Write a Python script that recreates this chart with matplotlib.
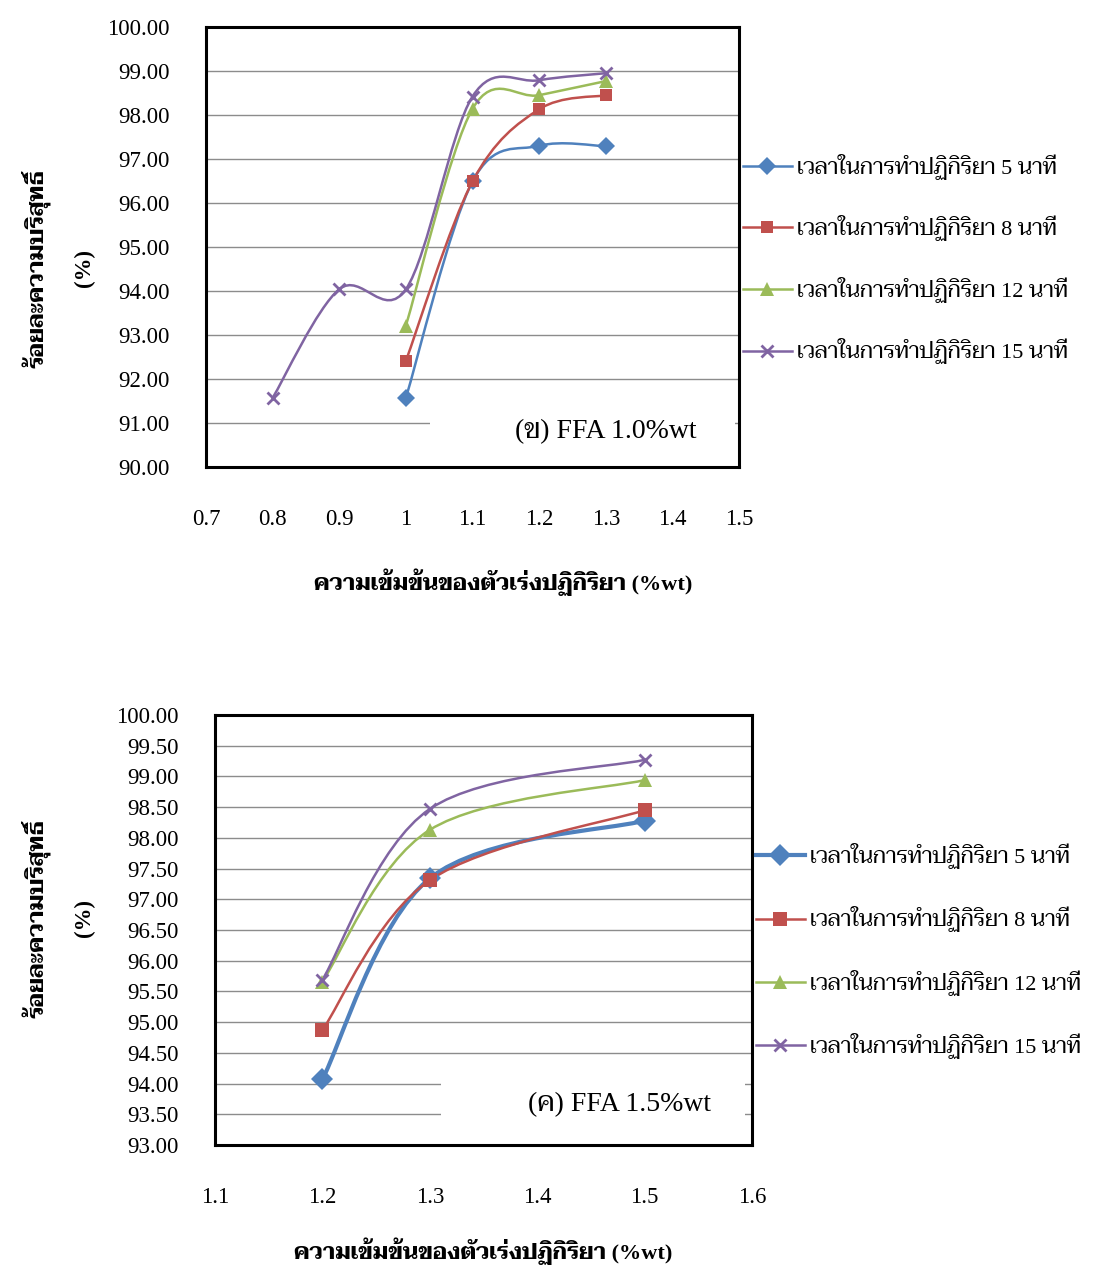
import matplotlib
matplotlib.use("Agg")
import matplotlib.pyplot as plt
from matplotlib.path import Path
from matplotlib.patches import PathPatch, Rectangle
from matplotlib.lines import Line2D
from matplotlib import font_manager
from fontTools.ttLib import TTFont, TTCollection


def find_thai_fonts():
    found = []
    for f in font_manager.findSystemFonts():
        try:
            if f.lower().endswith(".ttc"):
                fonts = TTCollection(f).fonts
            else:
                fonts = [TTFont(f, lazy=True)]
            for tt in fonts:
                cmap = tt.getBestCmap() or {}
                if 0x0E01 in cmap and 0x0E35 in cmap:
                    found.append(font_manager.FontProperties(fname=f).get_name())
                    break
        except Exception:
            continue
    return sorted(set(found))


thai_fonts = find_thai_fonts()
preferred = ["Taviraj", "Trirong", "Noto Serif Thai", "Sarabun"]
thai = next((p for p in preferred if p in thai_fonts), thai_fonts[0] if thai_fonts else None)
FAM = ["Liberation Serif"] + ([thai] if thai else []) + ["DejaVu Sans"]

# ---- data: chart (ข) FFA 1.0%wt ----
x_b = [0.8, 0.9, 1.0, 1.1, 1.2, 1.3]
b_5min = [None, None, 91.57, 96.49, 97.30, 97.29]
b_8min = [None, None, 92.41, 96.49, 98.13, 98.45]
b_12min = [None, None, 93.21, 98.14, 98.45, 98.77]
b_15min = [91.57, 94.04, 94.04, 98.42, 98.79, 98.95]
b_xticks = [0.7, 0.8, 0.9, 1.0, 1.1, 1.2, 1.3, 1.4, 1.5]
b_xlabels = ["0.7", "0.8", "0.9", "1", "1.1", "1.2", "1.3", "1.4", "1.5"]
b_yticks = [90, 91, 92, 93, 94, 95, 96, 97, 98, 99, 100]

# ---- data: chart (ค) FFA 1.5%wt ----
x_c = [1.2, 1.3, 1.5]
c_5min = [94.07, 97.34, 98.28]
c_8min = [94.87, 97.31, 98.45]
c_12min = [95.66, 98.13, 98.94]
c_15min = [95.69, 98.47, 99.27]
c_xticks = [1.1, 1.2, 1.3, 1.4, 1.5, 1.6]
c_xlabels = ["1.1", "1.2", "1.3", "1.4", "1.5", "1.6"]
c_yticks = [93.0, 93.5, 94.0, 94.5, 95.0, 95.5, 96.0, 96.5, 97.0, 97.5,
            98.0, 98.5, 99.0, 99.5, 100.0]

labels = ["เวลาในการทำปฏิกิริยา 5 นาที", "เวลาในการทำปฏิกิริยา 8 นาที",
          "เวลาในการทำปฏิกิริยา 12 นาที", "เวลาในการทำปฏิกิริยา 15 นาที"]
colors = ["#4F81BD", "#C0504D", "#9BBB59", "#8064A2"]
markers = ["D", "s", "^", "x"]
xlab = "ความเข้มข้นของตัวเร่งปฏิกิริยา (%wt)"
ylab = "ร้อยละความบริสุทธิ์\n(%)"


def smooth_path(xs, ys):
    # excel style smoothed line (catmull-rom as cubic bezier)
    pts = [(x, y) for x, y in zip(xs, ys) if y is not None]
    n = len(pts)
    verts = [pts[0]]
    codes = [Path.MOVETO]
    for i in range(n - 1):
        p0 = pts[i - 1] if i > 0 else pts[i]
        p1 = pts[i]
        p2 = pts[i + 1]
        p3 = pts[i + 2] if i + 2 < n else pts[i + 1]
        c1 = (p1[0] + (p2[0] - p0[0]) / 6, p1[1] + (p2[1] - p0[1]) / 6)
        c2 = (p2[0] - (p3[0] - p1[0]) / 6, p2[1] - (p3[1] - p1[1]) / 6)
        verts += [c1, c2, p2]
        codes += [Path.CURVE4] * 3
    return Path(verts, codes)


def draw_chart(ax, xs, series, xticks, xlabels, yticks, xlim, ylim, lws, msizes,
               note, note_xy, mask):
    ax.set_xlim(*xlim)
    ax.set_ylim(*ylim)
    ax.set_yticks(yticks)
    ax.set_yticklabels([f"{v:.2f}" for v in yticks], family=FAM, fontsize=16.5)
    ax.set_xticks(xticks)
    ax.set_xticklabels(xlabels, family=FAM, fontsize=16.5)
    ax.tick_params(axis="y", length=0, pad=26)
    ax.tick_params(axis="x", length=0, pad=30)
    ax.set_axisbelow(True)
    ax.grid(axis="y", color="#8c8c8c", linewidth=1.0)
    for s in ax.spines.values():
        s.set_linewidth(2.2)
        s.set_color("black")
    # white box behind the note hides part of the gridlines
    ax.add_patch(Rectangle((mask[0], mask[1]), mask[2], mask[3],
                           transform=ax.transAxes, facecolor="white",
                           edgecolor="none", zorder=1.2))
    for ys, c, m, lw, ms in zip(series, colors, markers, lws, msizes):
        ax.add_patch(PathPatch(smooth_path(xs, ys), facecolor="none",
                               edgecolor=c, linewidth=lw, zorder=2))
        px = [x for x, y in zip(xs, ys) if y is not None]
        py = [y for y in ys if y is not None]
        mew = 2.0 if m == "x" else 0
        ax.plot(px, py, linestyle="none", color=c, marker=m, markersize=ms,
                markeredgewidth=mew, markeredgecolor=c, zorder=3)
    ax.text(note_xy[0], note_xy[1], note, transform=ax.transAxes,
            ha="center", va="center", family=FAM, fontsize=20, zorder=4)


fig = plt.figure(figsize=(11.09, 12.68), dpi=100)
W, H = 1109, 1268


def ax_at(l, t, r, b):
    return fig.add_axes([l / W, 1 - b / H, (r - l) / W, (b - t) / H])


ax1 = ax_at(206, 27, 739, 467)
draw_chart(ax1, x_b, [b_5min, b_8min, b_12min, b_15min], b_xticks, b_xlabels,
           b_yticks, (0.7, 1.5), (90, 100), [1.8] * 4, [9, 9, 10, 9],
           "(ข) FFA 1.0%wt", (0.75, 0.08), (0.42, 0.011, 0.572, 0.15))

ax2 = ax_at(215, 715, 752, 1145)
draw_chart(ax2, x_c, [c_5min, c_8min, c_12min, c_15min], c_xticks, c_xlabels,
           c_yticks, (1.1, 1.6), (93, 100), [3.0, 1.8, 1.8, 1.8], [11, 10, 10, 9],
           "(ค) FFA 1.5%wt", (0.754, 0.095), (0.421, 0.012, 0.566, 0.174))


def legend_for(anchor, lws, msizes, spacing):
    hs = []
    for c, m, lw, ms in zip(colors, markers, lws, msizes):
        hs.append(Line2D([], [], color=c, linewidth=lw, marker=m, markersize=ms,
                         markeredgewidth=2.0 if m == "x" else 0,
                         markeredgecolor=c))
    fig.legend(hs, labels, loc="center left", bbox_to_anchor=anchor,
               frameon=False, prop=font_manager.FontProperties(family=FAM, size=16),
               handlelength=2.2, handletextpad=0.25, labelspacing=spacing,
               borderaxespad=0, borderpad=0)


legend_for((743 / W, 1 - 259 / H), [1.8] * 4, [9, 9, 10, 9], 1.6)
legend_for((756 / W, 1 - 951 / H), [3.0, 1.8, 1.8, 1.8], [11, 10, 10, 9], 1.68)

fig.text(503 / W, 1 - 582 / H, xlab, ha="center", va="center", family=FAM,
         fontsize=16, fontweight="bold")
fig.text(483 / W, 1 - 1251 / H, xlab, ha="center", va="center", family=FAM,
         fontsize=16, fontweight="bold")
fig.text(58 / W, 1 - 268 / H, ylab, ha="center", va="center", rotation=90,
         family=FAM, fontsize=16.5, fontweight="bold", linespacing=2.4,
         multialignment="center")
fig.text(58 / W, 1 - 918 / H, ylab, ha="center", va="center", rotation=90,
         family=FAM, fontsize=16.5, fontweight="bold", linespacing=2.4,
         multialignment="center")

fig.savefig("out.png", dpi=100)
